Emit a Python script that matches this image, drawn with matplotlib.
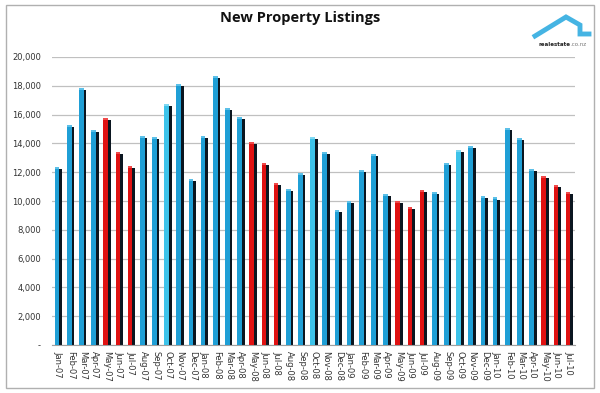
import numpy as np
import matplotlib
matplotlib.use("Agg")
from matplotlib import pyplot as plt
from matplotlib.patches import Rectangle

# month labels and listing counts
months = ["Jan-07", "Feb-07", "Mar-07", "Apr-07", "May-07", "Jun-07", "Jul-07", "Aug-07",
          "Sep-07", "Oct-07", "Nov-07", "Dec-07", "Jan-08", "Feb-08", "Mar-08", "Apr-08",
          "May-08", "Jun-08", "Jul-08", "Aug-08", "Sep-08", "Oct-08", "Nov-08", "Dec-08",
          "Jan-09", "Feb-09", "Mar-09", "Apr-09", "May-09", "Jun-09", "Jul-09", "Aug-09",
          "Sep-09", "Oct-09", "Nov-09", "Dec-09", "Jan-10", "Feb-10", "Mar-10", "Apr-10",
          "May-10", "Jun-10", "Jul-10"]
listings = [12340, 15310, 17840, 14940, 15750, 13400, 12460, 14500,
            14460, 16740, 18120, 11540, 14500, 18690, 16460, 15840,
            14110, 12640, 11240, 10850, 11950, 14460, 13380, 9380,
            9980, 12140, 13290, 10480, 10020, 9610, 10780, 10620,
            12640, 13560, 13820, 10340, 10250, 15100, 14390, 12250,
            11750, 11100, 10620]
red_months = ["May", "Jun", "Jul"]
light_months = ["Oct"]

blue = "#1f9fd6"
light_blue = "#3dc3ea"
red = "#e01212"
dark = "#0b1620"

colors = []
caps = []
for m in months:
    if m[:3] in red_months:
        colors.append(red)
        caps.append("#f04a4a")
    elif m[:3] in light_months:
        colors.append(light_blue)
        caps.append("#7fd8f2")
    else:
        colors.append(blue)
        caps.append("#5cc0e8")

fig = plt.figure(figsize=(6, 3.93), dpi=100)
ax = fig.add_axes([0.087, 0.122, 0.872, 0.733])

x = np.arange(len(months))
vals = np.array(listings)
# dark side face, shifted right and a bit down, then the coloured front with a light top
ax.bar(x + 0.13, vals - 150, width=0.36, color=dark, zorder=2)
ax.bar(x - 0.1, vals, width=0.38, color=colors, zorder=3)
ax.bar(x - 0.1, 140, bottom=vals - 140, width=0.38, color=caps, zorder=4)

ax.set_xlim(-0.5, len(months) - 0.5)
ax.set_ylim(0, 20000)
ax.set_yticks(np.arange(0, 20001, 2000))
ax.set_yticklabels(["-"] + ["{:,}".format(v) for v in range(2000, 20001, 2000)],
                   fontsize=6, color="#333333")
ax.set_xticks(x)
ax.set_xticklabels(months, rotation=-90, fontsize=6, color="#333333")
ax.yaxis.grid(True, color="#c0c0c0", linewidth=0.9, zorder=0)
ax.set_axisbelow(True)
for s in ["top", "right", "left"]:
    ax.spines[s].set_visible(False)
ax.spines["bottom"].set_color("#a0a0a0")
ax.tick_params(axis="both", length=0, pad=8)
ax.tick_params(axis="x", pad=4)

fig.text(0.5, 0.955, "New Property Listings", ha="center", va="center",
         fontsize=10.5, fontweight="bold", family="Open Sans", color="#111111")

# logo, top right
hx = np.array([535, 566, 580, 580, 589]) / 600
hy = 1 - np.array([36, 17, 25, 34, 34]) / 393
fig.add_artist(plt.Line2D(hx, hy, color="#45b4e3", linewidth=3.5,
                          solid_joinstyle="miter"))
t2 = fig.text(587 / 600, 1 - 44 / 393, ".co.nz", ha="right", va="center", fontsize=4,
              color="#777777")
fig.canvas.draw()
bb = t2.get_window_extent()
fig.text(bb.x0 / fig.bbox.width, 1 - 44 / 393, "realestate", ha="right", va="center",
         fontsize=4, fontweight="bold", color="#222222")

# outer border
fig.add_artist(Rectangle((0.01, 0.012), 0.98, 0.976, transform=fig.transFigure,
                         fill=False, edgecolor="#b0b0b0", linewidth=1))

fig.savefig("out.png", dpi=100)
